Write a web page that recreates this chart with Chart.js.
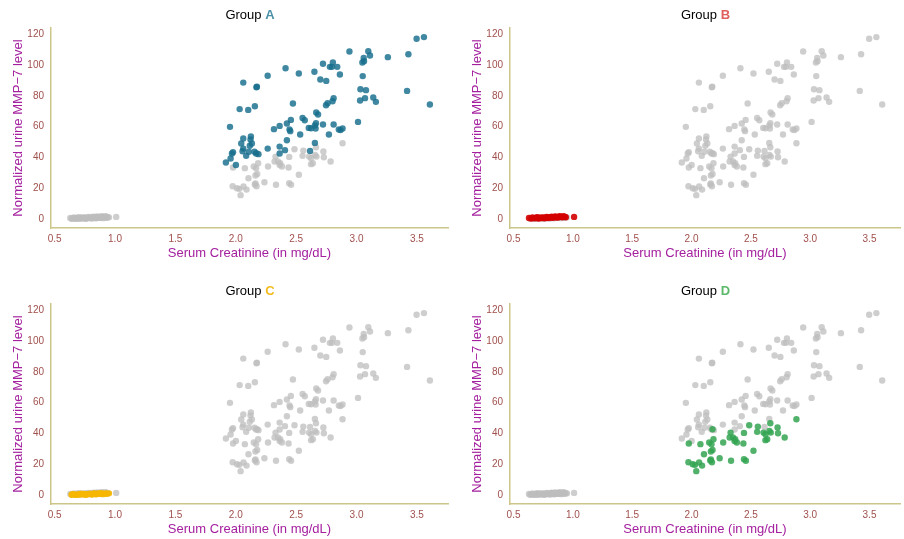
<!DOCTYPE html>
<html>
<head>
<meta charset="utf-8">
<title>MMP-7 vs Serum Creatinine by group</title>
<script src="https://cdn.jsdelivr.net/npm/chart.js@4.4.1/dist/chart.umd.min.js"></script>
<style>
  html, body { margin: 0; padding: 0; background: #fff; }
  body { width: 904px; height: 539px; position: relative; overflow: hidden; font-family: "Liberation Sans", Arial, sans-serif; }
  .panel { position: absolute; height: 270px; }
  .panel canvas { position: absolute; left: 0; top: 0; }
  .title { position: absolute; top: 7px; left: 51px; right: 3px; text-align: center; font-size: 13px; line-height: 15px; color: #000; }
  .title b { font-weight: bold; }
</style>
</head>
<body>

<div class="panel" id="pA" style="left:0;top:0;width:452px">
  <canvas id="chartA" width="452" height="270"></canvas>
  <div class="title">Group <b style="color:#4b91a8">A</b></div>
</div>
<div class="panel" id="pB" style="left:459px;top:0;width:445px">
  <canvas id="chartB" width="445" height="270"></canvas>
  <div class="title">Group <b style="color:#e0605e">B</b></div>
</div>
<div class="panel" id="pC" style="left:0;top:276px;width:452px">
  <canvas id="chartC" width="452" height="270"></canvas>
  <div class="title">Group <b style="color:#f2bb1e">C</b></div>
</div>
<div class="panel" id="pD" style="left:459px;top:276px;width:445px">
  <canvas id="chartD" width="445" height="270"></canvas>
  <div class="title">Group <b style="color:#5cb86a">D</b></div>
</div>

<script>
// tick labels
const xTicks = [0.5, 1.0, 1.5, 2.0, 2.5, 3.0, 3.5];
const yTicks = [0, 20, 40, 60, 80, 100, 120];

// group A: serum creatinine / MMP-7
const aCreat = [1.918, 1.952, 1.968, 1.977, 1.957, 2.001, 2.062, 2.032, 2.103, 2.158, 2.171, 2.175,
  2.062, 2.045, 2.125, 2.122, 2.133, 2.062, 2.056, 2.116, 2.108, 2.086, 2.155, 2.168, 2.188,
  2.264, 2.316, 2.363, 2.363, 2.363, 2.407, 2.423, 2.423, 2.445, 2.456, 2.451, 2.473, 2.533,
  2.553, 2.571, 2.412, 2.264, 2.522, 2.604, 2.623, 2.655, 2.661, 2.666, 2.681, 2.664, 2.655,
  2.615, 2.722, 2.771, 2.810, 2.853, 2.867, 2.884, 2.747, 2.760, 2.801, 2.810, 2.651, 2.700,
  2.749, 2.722, 2.779, 2.796, 2.804, 2.840, 2.862, 2.941, 3.012, 3.032, 3.078, 3.051, 3.029,
  3.070, 3.138, 3.160, 3.048, 3.062, 3.059, 3.097, 3.111, 3.259, 3.429, 3.418, 3.497, 3.558, 3.607];
const aMmp = [36.8, 59.9, 42.6, 43.5, 39.4, 35.2, 88.6, 71.4, 70.9, 73.3, 85.6, 85.9,
  52.3, 49.1, 53.6, 51.7, 49.1, 45.8, 44.1, 47.6, 43.7, 41.1, 43.7, 42.6, 42.2,
  45.8, 58.4, 60.5, 47.1, 42.6, 44.8, 51.2, 62.1, 58.2, 64.4, 57.1, 75.0, 54.9,
  65.7, 64.2, 97.9, 93.0, 94.5, 59.2, 59.0, 60.8, 58.8, 69.2, 67.9, 62.3, 49.5,
  44.3, 61.4, 54.9, 61.4, 58.2, 57.8, 58.8, 73.9, 75.2, 76.5, 78.5, 95.6, 90.6,
  89.7, 100.8, 98.8, 98.8, 101.6, 98.8, 93.8, 108.8, 63.1, 84.3, 83.7, 92.8, 77.0,
  78.5, 78.9, 76.1, 101.6, 102.5, 104.6, 109.0, 106.2, 105.1, 107.0, 83.2, 117.0, 118.1, 74.4];

// group B
const bCreat = [0.63, 0.65, 0.66, 0.68, 0.69, 0.70, 0.71, 0.72, 0.73, 0.74, 0.75, 0.76, 0.77, 0.78, 0.79,
  0.80, 0.81, 0.82, 0.83, 0.84, 0.85, 0.86, 0.87, 0.88, 0.89, 0.90, 0.91, 0.92, 0.93, 0.94, 1.01];
const bMmp = [0.8, 0.4, 1.1, 0.6, 0.9, 1.3, 0.5, 1.0, 0.7, 1.2, 0.9, 0.6, 1.1, 1.4, 0.8,
  1.0, 1.3, 1.6, 0.9, 1.2, 1.8, 1.4, 1.0, 1.7, 2.0, 1.5, 1.2, 1.9, 1.6, 1.3, 1.5];

// group C
const cCreat = [0.64, 0.65, 0.67, 0.68, 0.70, 0.71, 0.72, 0.74, 0.75, 0.76, 0.77, 0.79, 0.80,
  0.81, 0.82, 0.83, 0.84, 0.85, 0.86, 0.87, 0.88, 0.89, 0.90, 0.92, 0.93, 0.95];
const cMmp = [0.3, 0.7, 0.5, 0.2, 0.6, 0.4, 0.9, 0.5, 0.8, 0.3, 0.6, 1.0, 0.7,
  0.4, 0.9, 1.1, 0.6, 0.8, 1.2, 0.9, 1.0, 1.3, 0.7, 1.1, 0.9, 1.2];

// group D
const dCreat = [1.977, 1.974, 2.010, 2.029, 2.040, 2.064, 2.089, 2.075, 2.105, 2.149, 2.168, 2.185,
  2.177, 2.163, 2.177, 2.163, 2.172, 2.158, 2.237, 2.267, 2.329, 2.321, 2.349, 2.368, 2.363,
  2.382, 2.333, 2.442, 2.442, 2.458, 2.437, 2.486, 2.522, 2.559, 2.553, 2.607, 2.623, 2.623,
  2.638, 2.664, 2.656, 2.668, 2.725, 2.729, 2.785, 2.884];
const dMmp = [33.5, 21.4, 20.1, 19.7, 15.6, 21.2, 19.2, 33.1, 26.6, 34.2, 33.1, 36.3,
  42.8, 28.3, 29.4, 23.2, 21.4, 22.5, 24.0, 34.2, 40.6, 37.4, 37.4, 36.3, 35.2,
  34.2, 22.3, 40.4, 23.4, 22.3, 33.5, 45.4, 28.8, 44.5, 41.1, 40.6, 39.5, 35.7,
  36.3, 46.7, 41.7, 40.6, 43.9, 40.2, 37.4, 49.3];

const tickColor = '#a0504c';
const titleColor = '#a4209f';
const axisColor = '#cdc68a';
const greyColor = 'rgba(190, 190, 190, 0.75)';

function toPoints(xs, ys) {
  return xs.map((x, i) => ({ x: x, y: ys[i] }));
}

const groups = {
  A: { x: aCreat, y: aMmp, color: 'rgba(22, 110, 140, 0.82)' },
  B: { x: bCreat, y: bMmp, color: 'rgba(212, 0, 0, 0.9)' },
  C: { x: cCreat, y: cMmp, color: 'rgba(246, 182, 0, 0.92)' },
  D: { x: dCreat, y: dMmp, color: 'rgba(52, 165, 82, 0.85)' }
};

function makePanel(canvasId, key) {
  let grey = [];
  Object.keys(groups).forEach(k => {
    if (k !== key) grey = grey.concat(toPoints(groups[k].x, groups[k].y));
  });
  const g = groups[key];
  new Chart(document.getElementById(canvasId), {
    type: 'scatter',
    data: {
      datasets: [
        { label: 'other', data: grey, backgroundColor: greyColor, borderWidth: 0, pointRadius: 3.2, order: 2 },
        { label: key, data: toPoints(g.x, g.y), backgroundColor: g.color, borderWidth: 0, pointRadius: 3.2, order: 1 }
      ]
    },
    options: {
      responsive: false,
      animation: false,
      devicePixelRatio: 1,
      layout: { padding: { top: 28, right: 3, left: 0, bottom: 0 } },
      plugins: { legend: { display: false }, tooltip: { enabled: false }, title: { display: false } },
      scales: {
        x: {
          type: 'linear',
          min: 0.47,
          max: 3.757,
          afterBuildTicks: s => { s.ticks = xTicks.map(v => ({ value: v })); },
          afterFit: s => { s.height = 42; },
          grid: { display: false, drawTicks: false },
          border: { display: true, color: axisColor, width: 1.5 },
          ticks: { color: tickColor, font: { size: 10, family: 'Liberation Sans' }, padding: 5, autoSkip: false, maxRotation: 0, callback: v => v.toFixed(1) },
          title: { display: true, text: 'Serum Creatinine (in mg/dL)', color: titleColor, font: { size: 13, family: 'Liberation Sans' }, padding: { top: 0, bottom: 9 } }
        },
        y: {
          type: 'linear',
          min: -5.7,
          max: 124,
          afterBuildTicks: s => { s.ticks = yTicks.map(v => ({ value: v })); },
          afterFit: s => { s.width = 51; },
          grid: { display: false, drawTicks: false },
          border: { display: true, color: axisColor, width: 1.5 },
          ticks: { color: tickColor, font: { size: 10, family: 'Liberation Sans' }, padding: 7, autoSkip: false },
          title: { display: true, text: 'Normalized urine MMP\u22127 level', color: titleColor, font: { size: 13, family: 'Liberation Sans' }, padding: { top: 11, bottom: 0 } }
        }
      }
    }
  });
}

makePanel('chartA', 'A');
makePanel('chartB', 'B');
makePanel('chartC', 'C');
makePanel('chartD', 'D');
</script>
</body>
</html>
